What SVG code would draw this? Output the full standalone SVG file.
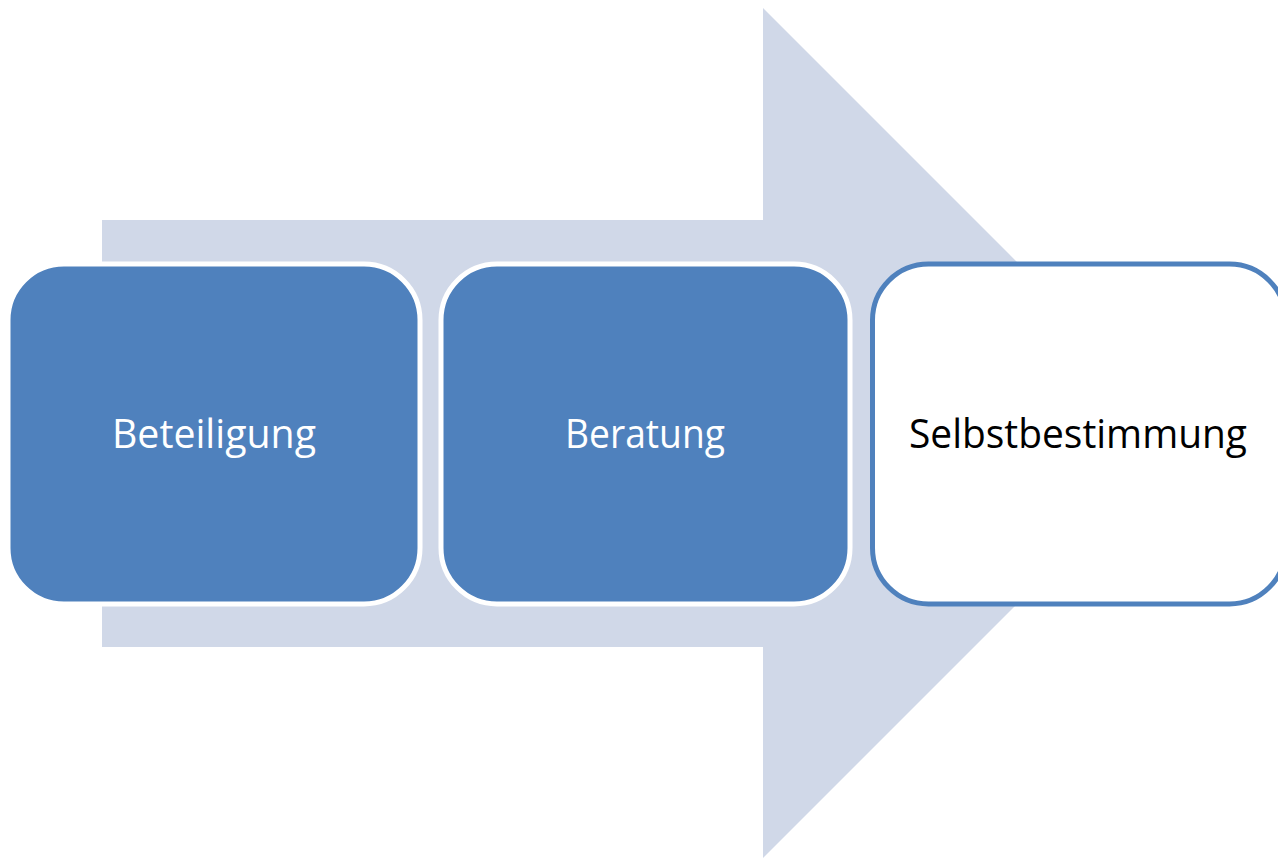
<svg xmlns="http://www.w3.org/2000/svg" width="1278" height="859" viewBox="0 0 1278 859">
<style>
.lbl{font-family:"Open Sans","Liberation Sans",sans-serif;font-size:40px;text-anchor:middle}
.filled{fill:#4F81BD;stroke:#FFFFFF;stroke-width:5}
.outline{fill:#FFFFFF;stroke:#4F81BD;stroke-width:5}
</style>
<rect width="1278" height="859" fill="#FFFFFF"/>
<g id="arrow">
<polygon points="102,220 763,220 763,8 1188,433 763,858 763,647 102,647" fill="#D0D8E8"/>
</g>
<g id="connectors"></g>
<g id="node-beteiligung">
<rect class="filled" x="8" y="264" width="412" height="340" rx="56" ry="56"/>
<text class="lbl" x="214" y="448" fill="#FFFFFF" textLength="204" lengthAdjust="spacingAndGlyphs">Beteiligung</text>
</g>
<g id="node-beratung">
<rect class="filled" x="441" y="264" width="409" height="340" rx="56" ry="56"/>
<text class="lbl" x="645" y="448" fill="#FFFFFF" textLength="160" lengthAdjust="spacingAndGlyphs">Beratung</text>
</g>
<g id="node-selbstbestimmung">
<rect class="outline" x="872.5" y="264" width="413" height="340" rx="56" ry="56"/>
<text class="lbl" x="1078" y="448" fill="#000000" textLength="338" lengthAdjust="spacingAndGlyphs">Selbstbestimmung</text>
</g>
</svg>
